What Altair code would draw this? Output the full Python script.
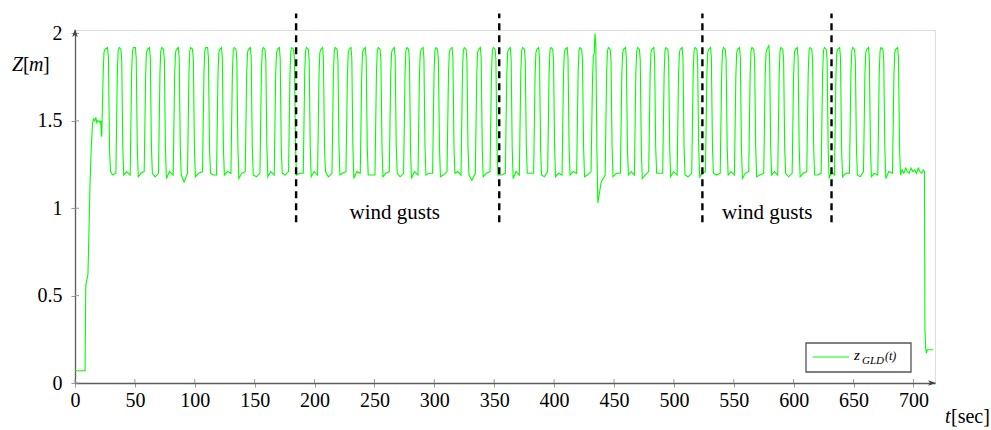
import altair as alt
import pandas as pd

# ---------------- data ----------------
# start-up phase (t [s], z [m])
start_t = [0.0, 8.4, 9.0, 9.6, 10.2, 10.8, 11.6, 12.5, 13.6, 14.6, 15.4, 16.5, 17.4, 18.2, 19.0, 20.0, 21.0, 21.6, 22.0, 22.4]
start_z = [0.07, 0.07, 0.56, 0.58, 0.60, 0.62, 0.85, 1.13, 1.35, 1.48, 1.51, 1.50, 1.52, 1.49, 1.50, 1.50, 1.49, 1.50, 1.41, 1.42]

# each oscillation cycle: time of the rising edge, of the falling edge, top level
rise_t = [22.97, 34.83, 46.77, 58.47, 70.41, 82.69, 94.63, 107.16, 118.85, 130.88,
          142.82, 155.10, 167.04, 178.99, 191.27, 203.21, 215.24, 226.93, 238.87, 251.15,
          263.09, 275.04, 287.06, 299.26, 311.29, 322.98, 334.92, 347.20, 359.98, 371.67,
          383.61, 395.31, 407.33, 419.53, 431.56, 443.34, 456.03, 467.74, 479.67, 491.36,
          503.39, 515.59, 527.04, 539.38, 551.24, 563.19, 575.72, 587.41, 599.44, 611.64,
          623.66, 634.78, 647.30, 658.99, 670.93, 683.21]
fall_t = [28.4, 39.5, 51.6, 63.4, 75.1, 87.5, 99.3, 111.9, 123.5, 135.6,
          147.6, 159.8, 171.8, 183.7, 196.0, 207.9, 220.0, 231.6, 243.6, 255.9,
          267.8, 279.7, 291.8, 303.9, 316.0, 327.7, 339.6, 351.9, 364.6, 376.4,
          388.3, 400.0, 412.1, 424.2, 435.3, 448.0, 460.8, 472.4, 484.4, 496.1,
          508.1, 520.3, 531.8, 544.1, 556.0, 567.9, 580.4, 592.1, 604.2, 616.3,
          628.4, 639.6, 652.0, 663.7, 675.7, 688.0]
top_start = [1.91, 1.92, 1.92, 1.91, 1.92, 1.91, 1.92, 1.92, 1.91, 1.92,
             1.91, 1.92, 1.91, 1.92, 1.92, 1.91, 1.92, 1.91, 1.91, 1.92,
             1.91, 1.92, 1.91, 1.92, 1.91, 1.92, 1.91, 1.92, 1.91, 1.92,
             1.91, 1.92, 1.91, 1.92, 1.89, 1.92, 1.91, 1.92, 1.91, 1.92,
             1.91, 1.92, 1.91, 1.92, 1.91, 1.92, 1.91, 1.92, 1.91, 1.92,
             1.92, 1.91, 1.92, 1.91, 1.92, 1.91]
top_end = [1.92, 1.91, 1.92, 1.92, 1.91, 1.92, 1.91, 1.92, 1.92, 1.91,
           1.92, 1.91, 1.92, 1.91, 1.91, 1.92, 1.91, 1.92, 1.92, 1.91,
           1.92, 1.91, 1.92, 1.91, 1.92, 1.91, 1.92, 1.91, 1.92, 1.91,
           1.92, 1.91, 1.92, 1.91, 2.00, 1.91, 1.92, 1.91, 1.92, 1.91,
           1.92, 1.91, 1.92, 1.91, 1.92, 1.91, 1.93, 1.91, 1.92, 1.91,
           1.91, 1.92, 1.91, 1.92, 1.91, 1.92]
# low level between cycle i and i+1: just after the fall, middle, before the next rise
low_a = [1.21, 1.19, 1.18, 1.20, 1.17, 1.19, 1.18, 1.20, 1.19, 1.17,
         1.19, 1.18, 1.20, 1.19, 1.18, 1.21, 1.19, 1.17, 1.19, 1.18,
         1.20, 1.17, 1.19, 1.18, 1.20, 1.19, 1.18, 1.19, 1.17, 1.20,
         1.19, 1.18, 1.19, 1.18, 1.03, 1.18, 1.19, 1.17, 1.20, 1.18,
         1.19, 1.18, 1.20, 1.19, 1.17, 1.18, 1.19, 1.20, 1.18, 1.19,
         1.17, 1.18, 1.19, 1.18, 1.17]
low_b = [1.19, 1.21, 1.20, 1.18, 1.21, 1.15, 1.20, 1.19, 1.21, 1.20,
         1.18, 1.21, 1.19, 1.20, 1.21, 1.18, 1.20, 1.21, 1.19, 1.20,
         1.18, 1.21, 1.20, 1.19, 1.21, 1.16, 1.20, 1.19, 1.21, 1.20,
         1.18, 1.20, 1.21, 1.19, 1.15, 1.20, 1.21, 1.19, 1.20, 1.21,
         1.18, 1.20, 1.19, 1.21, 1.20, 1.19, 1.21, 1.18, 1.20, 1.19,
         1.21, 1.20, 1.18, 1.20, 1.21]
low_c = [1.20, 1.19, 1.21, 1.20, 1.19, 1.20, 1.21, 1.19, 1.20, 1.21,
         1.20, 1.19, 1.21, 1.20, 1.19, 1.20, 1.21, 1.20, 1.19, 1.21,
         1.20, 1.19, 1.20, 1.21, 1.19, 1.20, 1.21, 1.20, 1.19, 1.20,
         1.21, 1.19, 1.20, 1.21, 1.19, 1.20, 1.19, 1.21, 1.20, 1.19,
         1.20, 1.21, 1.20, 1.19, 1.21, 1.20, 1.19, 1.20, 1.21, 1.20,
         1.19, 1.20, 1.21, 1.19, 1.20]

# final phase: hovering, then landing
end_t = [689.2, 690.5, 692.0, 693.5, 695.0, 696.5, 698.0, 699.5, 701.0, 702.5,
         704.0, 705.5, 707.0, 708.3, 709.2, 709.6, 710.2, 710.8, 711.5, 716.5]
end_z = [1.19, 1.22, 1.20, 1.23, 1.21, 1.20, 1.23, 1.21, 1.22, 1.20,
         1.23, 1.21, 1.20, 1.22, 1.21, 0.31, 0.20, 0.17, 0.19, 0.19]

# wind gust markers
gust_t = [184.6, 354.2, 523.8, 631.6]
gust_z_low = [0.92, 0.92, 0.92, 0.92]
gust_z_high = [2.114, 2.114, 2.114, 2.114]
label_t = [267.0, 578.0]
label_z = [0.975, 0.975]
label_text = ["wind gusts", "wind gusts"]

x_ticks = list(range(0, 701, 50))
y_ticks = [0, 0.5, 1, 1.5, 2]

# ---------------- build the line table ----------------
pts = list(zip(start_t, start_z))
n = len(rise_t)
for i in range(n):
    r, f = rise_t[i], fall_t[i]
    pts += [(r + 0.5, top_start[i] - 0.15), (r + 1.2, top_start[i] - 0.02),
            (r + 2.0, top_start[i]), (f - 1.2, top_end[i]),
            (f - 0.5, top_end[i] - 0.06), (f + 0.4, 1.35)]
    if i < n - 1:
        nr = rise_t[i + 1]
        pts += [(f + 1.2, low_a[i]), ((f + nr) / 2, low_b[i]), (nr - 0.7, low_c[i])]
pts += list(zip(end_t, end_z))
df = pd.DataFrame(pts, columns=["t", "z"])
df["i"] = range(len(df))

W, H = 860, 353
FONT = "Liberation Serif"
xs = alt.Scale(domain=[0, 718], nice=False, zero=False)
ys = alt.Scale(domain=[0, 2.02], nice=False)

line = alt.Chart(df).mark_line(color="#00ff00", strokeWidth=1.1).encode(
    x=alt.X("t:Q", scale=xs, axis=alt.Axis(
        values=x_ticks, title=None, grid=False, labelFont=FONT, labelFontSize=20,
        labelColor="black", domainColor="#5a5a5a", domainWidth=1.3,
        tickColor="#9a9a9a", tickSize=4, labelPadding=3, labelFlush=False)),
    y=alt.Y("z:Q", scale=ys, axis=alt.Axis(
        values=y_ticks, format="~g", title=None, grid=False, labelFont=FONT,
        labelFontSize=20, labelColor="black", domainColor="#5a5a5a", domainWidth=1.3,
        tickColor="#9a9a9a", tickSize=4, labelPadding=9, labelFlush=False)),
    order="i:Q",
)

# inner halves of the ticks (pgfplots ticks cross the axis)
xt_df = pd.DataFrame({"t": x_ticks})
yt_df = pd.DataFrame({"z": y_ticks})
xticks_in = alt.Chart(xt_df).mark_rule(color="#9a9a9a", strokeWidth=1).encode(
    x=alt.X("t:Q", scale=xs), y=alt.value(H - 4), y2=alt.value(H))
yticks_in = alt.Chart(yt_df).mark_rule(color="#9a9a9a", strokeWidth=1).encode(
    y=alt.Y("z:Q", scale=ys), x=alt.value(0), x2=alt.value(4))

gdf = pd.DataFrame({"t": gust_t, "z0": gust_z_low, "z1": gust_z_high})
gust = alt.Chart(gdf).mark_rule(color="black", strokeWidth=2.4, strokeDash=[7, 5]).encode(
    x=alt.X("t:Q", scale=xs), y=alt.Y("z0:Q", scale=ys), y2="z1:Q")

ldf = pd.DataFrame({"t": label_t, "z": label_z, "txt": label_text})
labels = alt.Chart(ldf).mark_text(font=FONT, fontSize=21, color="black",
                                  align="center", baseline="middle").encode(
    x=alt.X("t:Q", scale=xs), y=alt.Y("z:Q", scale=ys), text="txt:N")

one = pd.DataFrame({"k": [0]})

arrow_x = alt.Chart(one).mark_point(
    shape="M1,0 L-1,-0.7 L-0.5,0 L-1,0.7 Z", size=64, filled=True, color="#444444",
    opacity=1).encode(x=alt.value(857), y=alt.value(H))
arrow_y = alt.Chart(one).mark_point(
    shape="M0,-1 L-0.7,1 L0,0.5 L0.7,1 Z", size=64, filled=True, color="#444444",
    opacity=1).encode(x=alt.value(0), y=alt.value(3))


def txt(s, x, y, size=20, style="normal"):
    return alt.Chart(one).mark_text(text=s, font=FONT, fontSize=size, fontStyle=style,
                                    color="black", align="left",
                                    baseline="alphabetic").encode(
        x=alt.value(x), y=alt.value(y))


titles = [
    txt("Z", -63, 41, 20, "italic"),
    txt("[", -52, 41, 20),
    txt("m", -46, 41, 20, "italic"),
    txt("]", -32, 41, 20),
    txt("t", 870, 393, 20, "italic"),
    txt("[sec]", 876, 393, 20),
]

legend_box = alt.Chart(one).mark_rect(fill="white", stroke="#555555", strokeWidth=1.3).encode(
    x=alt.value(731), x2=alt.value(836), y=alt.value(313), y2=alt.value(342))
legend_line = alt.Chart(one).mark_rule(color="#00ff00", strokeWidth=1.1).encode(
    x=alt.value(738), x2=alt.value(774), y=alt.value(327))
legend_txt = [
    txt("z", 779, 330, 15, "italic"),
    txt("GLD", 787, 334, 11, "italic"),
    txt("(t)", 810, 330, 12, "italic"),
]

chart = alt.layer(
    line, xticks_in, yticks_in, gust, labels, arrow_x, arrow_y,
    *titles, legend_box, legend_line, *legend_txt
).properties(
    width=W, height=H,
    padding={"left": 75, "top": 30, "right": 56, "bottom": 47},
    autosize=alt.AutoSizeParams(type="none"),
).configure_view(stroke=None).configure(background="white")

chart.save("out.html", embed_options={"renderer": "svg", "actions": False})
